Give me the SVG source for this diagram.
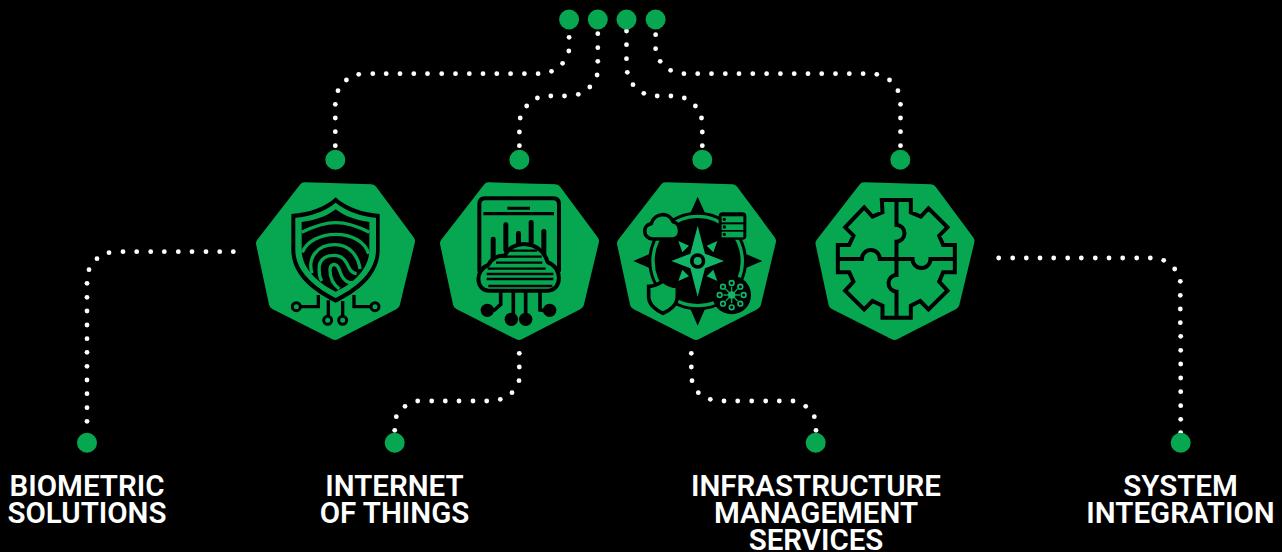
<svg xmlns="http://www.w3.org/2000/svg" width="1282" height="552" viewBox="0 0 1282 552">
<style>
.dot{fill:#07a651}
.link{fill:none;stroke:none;marker-start:url(#d);marker-mid:url(#d);marker-end:url(#d)}
.hex{fill:#07a651;stroke:#07a651;stroke-width:36;stroke-linejoin:round}
.k{fill:none;stroke:#000;stroke-linecap:butt;stroke-linejoin:miter}
.g{fill:none;stroke:#07a651;stroke-width:10;stroke-linecap:butt}
.lab{font-family:Roboto,"Liberation Sans",sans-serif;font-weight:600;font-size:29.5px;fill:#fff;text-anchor:middle}
.lt{fill:#10b568}
</style>
<defs>
<marker id="d" markerUnits="userSpaceOnUse" viewBox="-3 -3 6 6" markerWidth="6" markerHeight="6" refX="0" refY="0" overflow="visible"><circle r="2.4" fill="#fff"/></marker>
<path id="hexshape" class="hex" d="M164 40 364 46 477 198 432 386 255 477 75 386 36 205Z"/>
</defs>
<rect width="1282" height="552" fill="#000"/>
<g id="connectors">
<polyline class="link" points="569.1,37.3 568.8,51 562.6,63.3 551.5,71.3 538.1,73.7 524.4,73.7 510.6,73.7 496.8,73.7 483,73.7 469.3,73.7 455.5,73.7 441.7,73.7 427.5,73.7 413.8,73.7 400,73.7 386.2,73.7 372.8,73.7 358.7,74.3 346.4,80 338,90.7 335.3,104.3 335.3,118 335.3,131.7 335.3,145.7"/>
<polyline class="link" points="597.8,33.7 597.8,47.7 597.8,61.3 597.1,75 589.8,87 578.3,94.3 564.5,96 550.8,96 537.4,98 526.7,106 520.2,118 519.4,132 519.4,145.7"/>
<polyline class="link" points="626.5,31 626.5,44.7 626.5,58.7 627.3,72.3 633,84.7 643.8,93.3 657.2,96 670.9,96 684.3,98 695.4,106 701.5,118 702.3,132 702.3,145.7"/>
<polyline class="link" points="655.6,34.7 655.6,48.7 660.2,61.3 670.6,70.3 683.9,73.7 697.7,73.7 711.5,73.7 725.3,73.7 739,73.7 752.8,73.7 766.6,73.7 780.4,73.7 794.2,73.7 808,73.7 821.7,73.7 835.5,73.7 849.3,73.7 863.1,73.7 876.8,74.3 889.5,80 897.9,90.7 900.5,104.3 900.5,118 900.5,131.7 900.5,145.7"/>
<polyline class="link" points="233.3,251.7 219.7,251.7 206,251.7 192,251.7 178.3,251.7 164.3,251.7 150.7,251.7 136.7,251.7 123,251.7 109,252.7 97,258.7 89,269.7 87,283.3 87,297.3 87,311 87,325 87,338.7 87,352.3 87,366.3 87,380 87,393.7 87,407.7 87,421.3"/>
<polyline class="link" points="519.3,353.3 519.3,367 519,380.7 512,392.7 500.3,399.3 486.7,401 473,401 459,401 445.3,401 431.7,401 417.7,401 405,406.3 396.3,416.7 394.7,430.3"/>
<polyline class="link" points="691.3,353.3 691.3,367 692,380.7 698.3,392.7 710.3,399.3 724,401 737.7,401 751.7,401 765.7,401 779.3,401 793,401 805.7,406.3 814.3,416.7 816,430.3"/>
<polyline class="link" points="998.7,258 1012.7,258 1026.3,258 1040,258 1053.7,258 1067.7,258 1081.3,258 1095.3,258 1109,258 1122.7,258 1136.7,258 1150.3,258 1163.7,260.3 1174.7,269 1180.3,281.3 1180.3,295.3 1180.3,309 1180.3,322.7 1180.7,336.3 1180.7,350.3 1180.7,364 1180.7,378 1180.7,391.7 1180.7,405.7 1180.7,419.3 1180.7,432.7"/>
</g>
<g id="top-dots">
<circle class="dot" cx="569.1" cy="19.5" r="10"/><circle class="dot" cx="597.8" cy="19.5" r="10"/><circle class="dot" cx="626.5" cy="19.5" r="10"/><circle class="dot" cx="655.6" cy="19.5" r="10"/>
<circle class="dot" cx="335.3" cy="159.7" r="10"/><circle class="dot" cx="519.4" cy="159.7" r="10"/><circle class="dot" cx="702.3" cy="159.7" r="10"/><circle class="dot" cx="900.3" cy="159.7" r="10"/>
</g>
<g id="node-biometric">
<circle class="dot" cx="87" cy="442.7" r="10"/>
<text class="lab" x="87" y="496">BIOMETRIC</text><text class="lab" x="87" y="523">SOLUTIONS</text>
<g transform="translate(250 175) scale(.33333)">
<use href="#hexshape"/>
<path fill="#000" d="M257 67C225 98 175 114 124 117V225C124 300 190 350 257 383 325 350 389 300 389 225V117C340 114 290 98 257 67Z"/>
<path fill="#07a651" d="M257 83C225 110 178 125 136 128V225C136 292 200 340 257 369 315 340 378 292 378 225V128C338 125 290 110 257 83Z"/>
<path fill="#000" d="M257 103C230 125 190 137 155 141V225C155 285 212 328 257 350 305 328 358 285 358 225V141C325 137 285 125 257 103Z"/>
<path class="g" d="M155 172C190 155 220 143 257 143 295 143 325 155 358 172"/>
<path class="g" d="M157 232C170 200 210 178 257 178 305 178 345 200 356 236"/>
<path class="g" d="M186 295C172 250 200 209 255 209 300 209 325 245 330 282"/>
<path class="g" d="M215 318C205 300 207 284 208 272 212 250 232 241 252 241 280 241 290 262 298 280 303 290 310 295 320 296"/>
<path class="g" d="M268 342C245 325 240 305 240 285 240 270 250 266 258 270 270 276 268 295 280 310 288 320 300 325 310 322"/>
<path class="k" stroke-width="10" d="M205 360V395H152M235 376V423M278 378V423M312 360V395H362"/>
<g fill="#07a651" stroke="#000" stroke-width="9"><circle cx="139" cy="395" r="12"/><circle cx="233" cy="436" r="12"/><circle cx="278" cy="436" r="12"/><circle cx="375" cy="395" r="12"/></g>
</g>
</g>
<g id="node-iot">
<circle class="dot" cx="394.7" cy="442.7" r="10"/>
<text class="lab" x="394.5" y="496">INTERNET</text><text class="lab" x="394.5" y="523">OF THINGS</text>
<g transform="translate(434 175) scale(.33333)">
<use href="#hexshape"/>
<g transform="translate(3 0)">
<path class="k" stroke-width="12" d="M133 290V88Q133 70 150 70H355Q372 70 372 88V290"/>
<path fill="#000" d="M217 95H285V104H217ZM145 111H357V121H145Z"/>
<g fill="#000"><rect x="167" y="185" width="15" height="70" rx="7"/><rect x="205" y="142" width="15" height="90" rx="7"/><rect x="243" y="168" width="15" height="45" rx="7"/><rect x="281" y="135" width="15" height="75" rx="7"/><rect x="319" y="162" width="15" height="100" rx="7"/></g>
<path fill="#07a651" stroke="#000" stroke-width="12" stroke-linejoin="round" d="M162 347C122 347 118 285 160 270 170 248 193 240 210 243 226 195 318 190 338 262 383 275 383 347 338 347Z"/>
<path fill="none" stroke="#000" stroke-width="7" d="M222 227H307M200 245H320M183 263H322M158 281H332M155 297H355M155 312H355M160 333H352"/>
<path class="k" stroke-width="11" d="M197 350V388L175 408M235 350V420M272 350V420M315 350V405L335 408"/>
<g fill="#000"><circle cx="157" cy="406" r="20"/><circle cx="229" cy="433" r="20"/><circle cx="272" cy="433" r="20"/><circle cx="344" cy="406" r="20"/></g>
</g>
</g>
</g>
<g id="node-infrastructure">
<circle class="dot" cx="815.7" cy="442.7" r="10"/>
<text class="lab" x="816" y="496">INFRASTRUCTURE</text><text class="lab" x="816" y="523">MANAGEMENT</text><text class="lab" x="816" y="550">SERVICES</text>
<g transform="translate(611 175) scale(.33333)">
<use href="#hexshape"/>
<g transform="translate(-1 0)">
<path fill="#000" d="M261 65 288 125H234ZM261 452 234 390H288ZM68 258 130 231V285ZM455 258 392 231V285Z"/>
<circle cx="261" cy="258" r="148" fill="#000"/>
<circle cx="261" cy="258" r="134" fill="none" stroke="#07a651" stroke-width="10"/>
<path class="lt" d="M261 152 283 236 340 258 283 280 261 365 239 280 182 258 239 236Z"/>
<path class="lt" d="M320 198 308 232 288 212ZM320 318 288 304 308 284ZM203 198 235 212 215 232ZM203 318 215 284 235 304Z"/>
<circle cx="261" cy="258" r="23" fill="#000"/><circle cx="261" cy="258" r="12" class="lt"/>
<path fill="#07a651" stroke="#000" stroke-width="11" stroke-linejoin="round" d="M125 192C95 188 95 150 122 146 130 115 175 108 187 140 212 145 215 190 187 192Z"/>
<rect x="324" y="112" width="83" height="82" rx="12" fill="#000"/>
<g fill="#07a651"><rect x="333" y="124" width="65" height="18"/><rect x="333" y="148" width="65" height="17"/><rect x="333" y="170" width="65" height="17"/></g>
<g fill="#000"><circle cx="341" cy="133" r="5"/><circle cx="341" cy="156" r="5"/><circle cx="341" cy="178" r="5"/></g>
<path fill="#07a651" stroke="#000" stroke-width="11" d="M157 318C140 330 125 334 114 334V365C114 390 140 408 157 415 175 408 200 390 200 365V334C188 334 172 330 157 318Z"/>
<circle cx="363" cy="360" r="58" fill="#000"/>
<g stroke="#07a651" stroke-width="4" fill="none"><path d="M363 335V385M338 360H388M345 342 381 378M381 342 345 378"/></g>
<circle cx="363" cy="360" r="11" fill="#10b568"/>
<g fill="#000" stroke="#10b568" stroke-width="5"><circle cx="363" cy="324" r="7"/><circle cx="363" cy="397" r="7"/><circle cx="327" cy="360" r="7"/><circle cx="399" cy="360" r="7"/><circle cx="337" cy="335" r="7"/><circle cx="389" cy="335" r="7"/><circle cx="337" cy="386" r="7"/><circle cx="389" cy="386" r="7"/></g>
</g>
</g>
</g>
<g id="node-system">
<circle class="dot" cx="1180.7" cy="442.7" r="10"/>
<text class="lab" x="1180.5" y="496">SYSTEM</text><text class="lab" x="1180.5" y="523">INTEGRATION</text>
<g transform="translate(809.5 175) scale(.33333)">
<use href="#hexshape"/>
<g transform="translate(-1 0)">
<path fill="#07a651" stroke="#000" stroke-width="12" d="M218 75H305V112L335 125 358 100 415 157 390 182 402 210H437V292H402L390 320 415 347 358 403 333 378 305 392V428H220V392L190 378 165 403 108 347 133 320 120 292H86V210H120L133 182 108 157 165 97 190 125 220 112Z"/>
<path fill="none" stroke="#000" stroke-width="12" d="M262 75V150A24 25 0 0 1 262 200V300A24 25 0 0 0 262 350V428M86 252H158A27 27 0 1 1 212 252H310A27 27 0 0 0 364 252H437"/>
</g>
</g>
</g>
</svg>
